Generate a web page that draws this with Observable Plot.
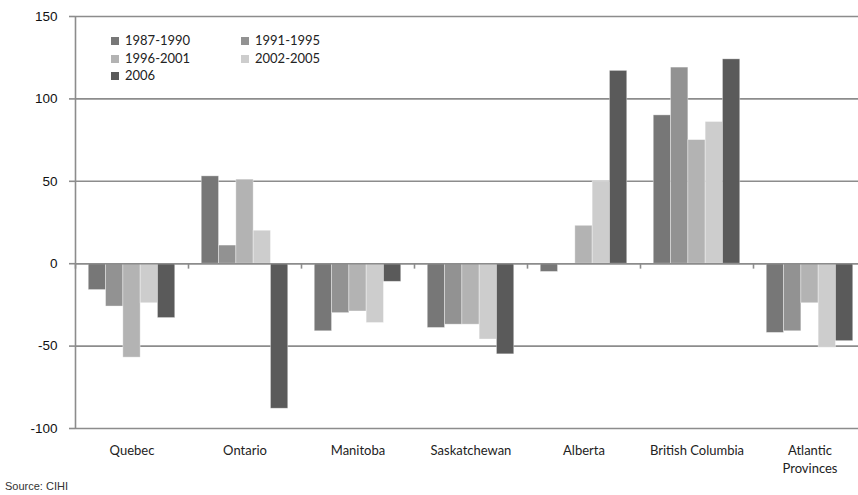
<!DOCTYPE html>
<html>
<head>
<meta charset="utf-8">
<script src="https://cdn.jsdelivr.net/npm/d3@7"></script>
<script src="https://cdn.jsdelivr.net/npm/@observablehq/plot@0.6"></script>
<style>
  html, body { margin: 0; padding: 0; background: #fff; }
  #wrap { position: relative; width: 858px; height: 495px; overflow: hidden; }
  #legend { position: absolute; left: 111px; top: 32px; font-family: Lato, "Open Sans", sans-serif; font-size: 13px; color: #222; }
  .item { position: absolute; white-space: nowrap; line-height: 17px; }
  .sw { display: inline-block; width: 8px; height: 8px; margin-right: 6px; vertical-align: 0px; }
  #source { position: absolute; left: 5px; top: 480px; font-family: "Liberation Sans", Arial, sans-serif; font-size: 11px; color: #333; }
</style>
</head>
<body>
<div id="wrap">
  <div id="chart"></div>
  <div id="legend"></div>
  <div id="source">Source: CIHI</div>
</div>
<script>
const categories = ["Quebec", "Ontario", "Manitoba", "Saskatchewan", "Alberta", "British Columbia", "Atlantic Provinces"];
const seriesNames = ["1987-1990", "1991-1995", "1996-2001", "2002-2005", "2006"];
const v1987_1990 = [-16, 53, -41, -39, -5, 90, -42];
const v1991_1995 = [-26, 11, -30, -37, 0, 119, -41];
const v1996_2001 = [-57, 51, -29, -37, 23, 75, -24];
const v2002_2005 = [-24, 20, -36, -46, 50, 86, -51];
const v2006 = [-33, -88, -11, -55, 117, 124, -47];
const yTicks = [-100, -50, 0, 50, 100, 150];
const seriesColors = ["#777777", "#929292", "#b3b3b3", "#cdcdcd", "#5a5a5a"];

const seriesValues = [v1987_1990, v1991_1995, v1996_2001, v2002_2005, v2006];
const data = [];
categories.forEach((c, i) => {
  seriesNames.forEach((s, j) => {
    data.push({category: c, series: s, idx: j, value: seriesValues[j][i]});
  });
});

const xPad = 0.766;
const xMin = -0.5 - xPad, xMax = seriesNames.length - 0.5 + xPad;

const chart = Plot.plot({
  width: 858,
  height: 495,
  marginLeft: 72,
  marginRight: -10,
  marginTop: 16,
  marginBottom: 67,
  style: {fontFamily: "Lato, 'Open Sans', sans-serif", fontSize: "13px", color: "#222", background: "#fff"},
  fx: {domain: categories, padding: 0, axis: null},
  x: {domain: [xMin, xMax], axis: null},
  y: {domain: [-100, 150], axis: null},
  color: {domain: seriesNames, range: seriesColors},
  marks: [
    Plot.ruleY(yTicks, {stroke: "#8c8c8c", strokeWidth: 1.6}),
    Plot.rectY(data, {
      fx: "category",
      x1: d => d.idx - 0.5,
      x2: d => d.idx + 0.5,
      y1: 0,
      y2: "value",
      fill: "series",
      stroke: "#ffffff",
      strokeOpacity: 0.45,
      strokeWidth: 0.8
    }),
    Plot.ruleY([0], {stroke: "#8c8c8c", strokeWidth: 1.6}),
    Plot.ruleX(categories, {fx: d => d, x: () => xMin, y1: 0, y2: -3.3, stroke: "#8c8c8c", strokeWidth: 1.6}),
    Plot.ruleX([categories[0]], {fx: d => d, x: () => xMin, y1: -100, y2: 150, stroke: "#8c8c8c", strokeWidth: 1.6}),
    Plot.axisY({ticks: yTicks, tickSize: 6, tickPadding: 12, label: null, stroke: "#8c8c8c", strokeWidth: 1.6,
      tickFormat: d => String(d),
      fontFamily: "'Liberation Sans', Arial, sans-serif", fontSize: 13.5, fill: "#111"}),
    Plot.axisFx({anchor: "bottom", tickSize: 0, tickPadding: 14, label: null, fontSize: 13, lineHeight: 1.35, fill: "#222",
      tickFormat: d => d === "Atlantic Provinces" ? "Atlantic\nProvinces" : d})
  ]
});
document.getElementById("chart").appendChild(chart);

const legend = document.getElementById("legend");
seriesNames.forEach((s, j) => {
  const el = document.createElement("div");
  el.className = "item";
  el.style.left = ((j % 2) * 130) + "px";
  el.style.top = (Math.floor(j / 2) * 17.5) + "px";
  el.innerHTML = `<span class="sw" style="background:${seriesColors[j]}"></span>${s}`;
  legend.appendChild(el);
});
</script>
</body>
</html>
